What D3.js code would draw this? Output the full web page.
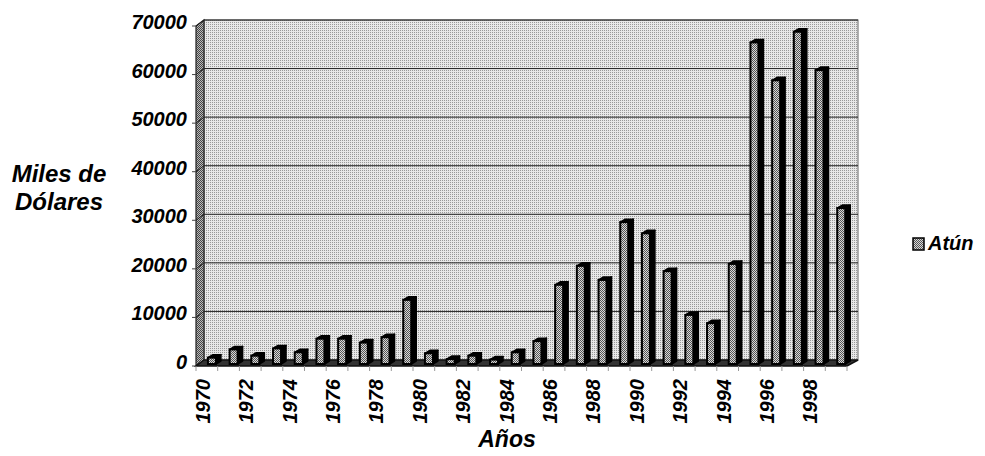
<!DOCTYPE html>
<html><head><meta charset="utf-8">
<script src="https://cdn.jsdelivr.net/npm/d3@7"></script>
<style>body{margin:0;background:#fff}svg{display:block}</style>
</head><body>
<script>
const years = [1970,1971,1972,1973,1974,1975,1976,1977,1978,1979,1980,1981,1982,1983,1984,1985,1986,1987,1988,1989,1990,1991,1992,1993,1994,1995,1996,1997,1998,1999];
const atun = [1100,2800,1500,3000,2200,5000,5000,4200,5300,13000,2000,800,1500,700,2200,4500,16100,20000,17100,29000,26700,18900,9900,8200,20400,66000,58200,68200,60300,31900];
const yTicks = [0,10000,20000,30000,40000,50000,60000,70000];
const xLabels = [1970,1972,1974,1976,1978,1980,1982,1984,1986,1988,1990,1992,1994,1996,1998];
const seriesName = "Atún";

const W = 985, H = 456;
const font = "'Liberation Sans', Arial, sans-serif";
const svg = d3.select("body").append("svg").attr("width", W).attr("height", H);
const defs = svg.append("defs");

// stipple patterns
const pw = defs.append("pattern").attr("id","wallPat").attr("width",2).attr("height",2).attr("patternUnits","userSpaceOnUse");
pw.append("rect").attr("width",2).attr("height",2).attr("fill","#e8e8e8");
pw.append("rect").attr("width",1).attr("height",1).attr("fill","#999");
const pl = defs.append("pattern").attr("id","leftPat").attr("width",2).attr("height",2).attr("patternUnits","userSpaceOnUse");
pl.append("rect").attr("width",2).attr("height",2).attr("fill","#bbb");
pl.append("rect").attr("width",1).attr("height",1).attr("fill","#444");
pl.append("rect").attr("x",1).attr("y",1).attr("width",1).attr("height",1).attr("fill","#444");
const pb = defs.append("pattern").attr("id","barPat").attr("width",2).attr("height",2).attr("patternUnits","userSpaceOnUse");
pb.append("rect").attr("width",2).attr("height",2).attr("fill","#d8d8d8");
pb.append("rect").attr("width",1).attr("height",1).attr("fill","#555");
pb.append("rect").attr("x",1).attr("y",1).attr("width",1).attr("height",1).attr("fill","#555");

const x = d3.scaleBand().domain(years).range([196, 847]).padding(0);
const y = d3.scaleLinear().domain([0, 70000]).range([360, 20]);
const DX = 8, DY = -6; // wall depth offset
const bw = x.bandwidth();

// back wall
svg.append("rect").attr("x", 196+DX).attr("y", y(70000)).attr("width", 847+DX-(196+DX)+3).attr("height", y(0)-y(70000))
  .attr("fill","url(#wallPat)").attr("stroke","#666").attr("stroke-width",1);
// left wall
svg.append("path").attr("d", `M196,${y(70000)-DY} L${196+DX},${y(70000)} L${196+DX},${y(0)} L196,${y(0)-DY} Z`)
  .attr("fill","url(#leftPat)").attr("stroke","#222").attr("stroke-width",1.2);

// gridlines
const g = svg.append("g");
yTicks.forEach(v => {
  if (v > 0) g.append("line").attr("x1",196+DX).attr("x2",850+DX).attr("y1",y(v)).attr("y2",y(v)).attr("stroke","#222").attr("stroke-width",1);
  g.append("line").attr("x1",196).attr("x2",196+DX).attr("y1",y(v)-DY).attr("y2",y(v)).attr("stroke","#222").attr("stroke-width",1);
  g.append("line").attr("x1",192).attr("x2",196).attr("y1",y(v)-DY).attr("y2",y(v)-DY).attr("stroke","#444").attr("stroke-width",1);
});

// floor
svg.append("path").attr("d", `M196,${y(0)-DY} L${196+DX},${y(0)} L${850+DX},${y(0)} L${847},${y(0)-DY} Z`)
  .attr("fill","#333").attr("stroke","#111").attr("stroke-width",1.5);

// x ticks
years.concat([null]).forEach((d,i) => {
  const xx = i < years.length ? x(d) : 847;
  svg.append("line").attr("x1",xx).attr("x2",xx).attr("y1",y(0)-DY).attr("y2",y(0)-DY+5).attr("stroke","#999").attr("stroke-width",1);
});

// bars
const bDX = 5, bDY = -3, fw = 8;
const bars = svg.append("g");
years.forEach((d,i) => {
  const v = atun[i];
  const fx = x(d) + bw*0.55, ft = y(v) - bDY, fb = y(0) + 4;
  bars.append("path").attr("d", `M${fx+fw},${ft} L${fx+fw+bDX},${ft+bDY} L${fx+fw+bDX},${fb+bDY} L${fx+fw},${fb} Z`)
    .attr("fill","#000").attr("stroke","#000").attr("stroke-width",1.5).attr("stroke-linejoin","round");
  bars.append("path").attr("d", `M${fx},${ft} L${fx+bDX},${ft+bDY} L${fx+fw+bDX},${ft+bDY} L${fx+fw},${ft} Z`)
    .attr("fill","#000").attr("stroke","#000").attr("stroke-width",1.5).attr("stroke-linejoin","round");
  bars.append("rect").attr("x",fx).attr("y",ft).attr("width",fw).attr("height",Math.max(0,fb-ft))
    .attr("fill","url(#barPat)").attr("stroke","#000").attr("stroke-width",2);
});

// y tick labels
svg.append("g").selectAll("text").data(yTicks).join("text")
  .attr("x",187).attr("y",v => y(v)+2).attr("text-anchor","end").attr("dominant-baseline","central")
  .attr("font-family",font).attr("font-weight","bold").attr("font-style","italic").attr("font-size",20)
  .attr("fill","#000").text(v => v);

// x labels
svg.append("g").selectAll("text").data(xLabels).join("text")
  .attr("transform", d => `translate(${x(d)+bw/2-4},379) rotate(-90)`)
  .attr("text-anchor","end").attr("dominant-baseline","central")
  .attr("font-family",font).attr("font-weight","bold").attr("font-style","italic").attr("font-size",20)
  .attr("fill","#000").text(d => d);

// axis titles
const yt = svg.append("text").attr("text-anchor","middle").attr("font-family",font).attr("font-weight","bold")
  .attr("font-style","italic").attr("font-size",24).attr("fill","#000");
yt.append("tspan").attr("x",59).attr("y",182).text("Miles de");
yt.append("tspan").attr("x",59).attr("y",210).text("Dólares");
svg.append("text").attr("x",507).attr("y",447).attr("text-anchor","middle").attr("font-family",font)
  .attr("font-weight","bold").attr("font-style","italic").attr("font-size",23).attr("fill","#000").text("Años");

// legend
svg.append("rect").attr("x",913).attr("y",238).attr("width",11).attr("height",12)
  .attr("fill","url(#barPat)").attr("stroke","#000").attr("stroke-width",1.5);
svg.append("text").attr("x",928).attr("y",250).attr("font-family",font).attr("font-weight","bold")
  .attr("font-style","italic").attr("font-size",20).attr("fill","#000").text(seriesName);
</script>
</body></html>
